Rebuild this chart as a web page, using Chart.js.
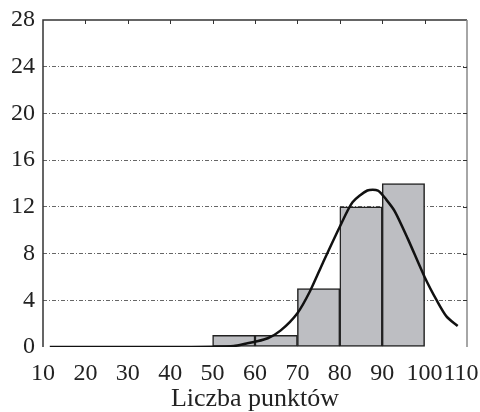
<!DOCTYPE html>
<html>
<head>
<meta charset="utf-8">
<script src="https://cdn.jsdelivr.net/npm/chart.js@4/dist/chart.umd.min.js"></script>
<style>
html,body{margin:0;padding:0;background:#fff;}
#wrap{width:480px;height:412px;}
</style>
</head>
<body>
<div id="wrap"><canvas id="c" width="480" height="412"></canvas></div>
<script>
// Histogram bins (centers) and counts
const binCenters = [55, 65, 75, 85, 95];
const counts = [1, 1, 5, 12, 14];
// Fitted curve
const fitX = [11.6, 20, 30, 40, 50, 55, 58, 60, 63, 66, 70, 73, 76, 80, 83, 86.5, 89, 91, 93, 96, 100, 103, 105.2, 107.8];
const fitY = [0, 0, 0, 0, 0.02, 0.08, 0.3, 0.45, 0.75, 1.4, 2.9, 4.8, 7.2, 10.3, 12.4, 13.4, 13.4, 12.6, 11.6, 9.3, 6.0, 3.9, 2.6, 1.8];
// Axis ticks
const xTicks = [10, 20, 30, 40, 50, 60, 70, 80, 90, 100, 110];
const yTicks = [0, 4, 8, 12, 16, 20, 24, 28];
const xTitle = 'Liczba punktów';

const FONT = "'Liberation Serif', 'Times New Roman', serif";

const boxPlugin = {
  id: 'box',
  afterDraw(chart) {
    const {ctx, chartArea: a, scales: {x, y}} = chart;
    ctx.save();
    ctx.lineCap = 'butt';
    ctx.strokeStyle = '#333';
    ctx.lineWidth = 1.5;
    ctx.beginPath();
    ctx.moveTo(a.left, a.bottom);
    ctx.lineTo(a.left, a.top);
    ctx.lineTo(a.right, a.top);
    ctx.stroke();
    ctx.strokeStyle = '#888';
    ctx.lineWidth = 1.5;
    ctx.beginPath();
    ctx.moveTo(a.right, a.top);
    ctx.lineTo(a.right, a.bottom);
    ctx.stroke();
    ctx.strokeStyle = '#333';
    ctx.lineWidth = 1;
    ctx.beginPath();
    xTicks.forEach(v => {
      if (v <= xTicks[0] || v >= xTicks[xTicks.length - 1]) return;
      const px = Math.round(x.getPixelForValue(v)) + 0.5;
      ctx.moveTo(px, a.top);
      ctx.lineTo(px, a.top + 4);
    });
    yTicks.forEach(v => {
      if (v <= yTicks[0] || v >= yTicks[yTicks.length - 1]) return;
      const py = Math.round(y.getPixelForValue(v)) + 0.5;
      ctx.moveTo(a.right, py);
      ctx.lineTo(a.right - 4, py);
    });
    ctx.stroke();
    ctx.restore();
  }
};

new Chart(document.getElementById('c'), {
  type: 'bar',
  data: {
    datasets: [
      {
        type: 'line',
        data: fitX.map((v, i) => ({x: v, y: fitY[i]})),
        borderColor: '#111',
        borderWidth: 2.5,
        pointRadius: 0,
        tension: 0.25,
        fill: false,
        order: 0
      },
      {
        type: 'bar',
        data: binCenters.map((v, i) => ({x: v, y: counts[i]})),
        backgroundColor: '#bdbec2',
        borderColor: '#222',
        borderWidth: 1.5,
        borderSkipped: false,
        barPercentage: 1,
        categoryPercentage: 1,
        order: 1
      }
    ]
  },
  options: {
    responsive: false,
    animation: false,
    devicePixelRatio: 1,
    layout: {padding: {left: 0, right: 13, top: 20, bottom: 0}},
    plugins: {legend: {display: false}, tooltip: {enabled: false}},
    scales: {
      x: {
        type: 'linear',
        min: 10, max: 110,
        offset: false,
        afterBuildTicks: s => { s.ticks = xTicks.map(v => ({value: v})); },
        afterFit: s => { s.height = 65; s.paddingLeft = 0; s.paddingRight = 0; },
        border: {display: false},
        grid: {display: false, drawTicks: false},
        ticks: {
          padding: 12,
          color: '#222',
          font: {family: FONT, size: 24},
          maxRotation: 0,
          autoSkip: false,
          callback: v => (v === xTicks[xTicks.length - 1]) ? String(v) + '\u2002' : String(v)
        },
        title: {
          display: true,
          text: xTitle,
          color: '#222',
          font: {family: FONT, size: 26, lineHeight: 1.0},
          padding: {top: 0, bottom: 0}
        }
      },
      y: {
        min: 0, max: 28,
        afterBuildTicks: s => { s.ticks = yTicks.map(v => ({value: v})); },
        afterFit: s => { s.width = 43; s.paddingTop = 0; s.paddingBottom = 0; },
        border: {display: false, dash: [4, 2, 1, 2]},
        grid: {
          drawTicks: false,
          color: c => (c.tick && (c.tick.value === 0 || c.tick.value === 28)) ? 'rgba(0,0,0,0)' : '#666',
          lineWidth: 1
        },
        ticks: {
          padding: 8,
          color: '#222',
          font: {family: FONT, size: 24}
        }
      }
    }
  },
  plugins: [boxPlugin]
});
</script>
</body>
</html>
